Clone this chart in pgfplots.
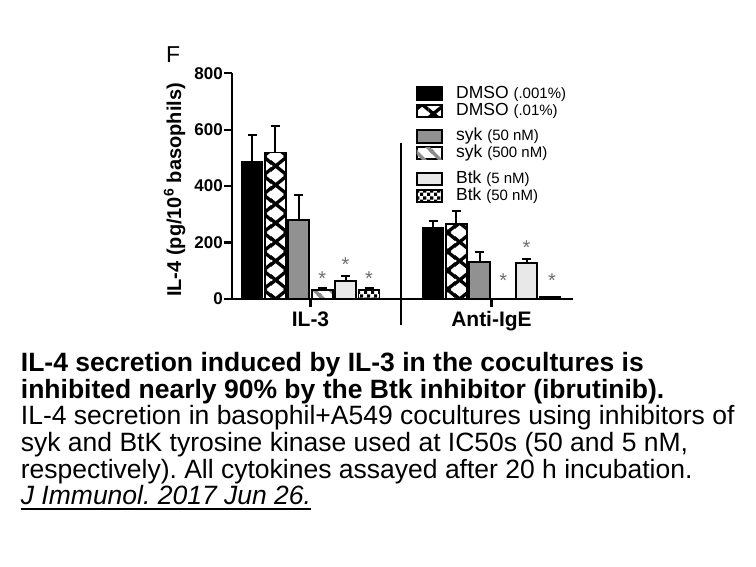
\documentclass[border=0pt]{standalone}
\usepackage{fontspec}
\setmainfont{Liberation Sans}
\usepackage{pgfplots}
\pgfplotsset{compat=1.18}
\usetikzlibrary{patterns}
\frenchspacing

\definecolor{sykgray}{RGB}{145,145,145}
\definecolor{btklight}{RGB}{232,232,232}
\definecolor{stripegray}{RGB}{140,140,140}
\definecolor{stargray}{RGB}{110,110,110}

% big X hatch, one diamond per bar width
\pgfdeclarepatternformonly{bigX}{\pgfqpoint{0pt}{0pt}}{\pgfqpoint{22.56pt}{18.5pt}}{\pgfqpoint{22.56pt}{18.5pt}}{%
  \pgfsetlinewidth{3.4pt}%
  \pgfpathmoveto{\pgfqpoint{-33.56pt}{-3.7pt}}\pgfpathlineto{\pgfqpoint{-2.06pt}{22.2pt}}%
  \pgfpathmoveto{\pgfqpoint{-33.56pt}{22.2pt}}\pgfpathlineto{\pgfqpoint{-2.06pt}{-3.7pt}}%
  \pgfpathmoveto{\pgfqpoint{-11pt}{-3.7pt}}\pgfpathlineto{\pgfqpoint{20.5pt}{22.2pt}}%
  \pgfpathmoveto{\pgfqpoint{-11pt}{22.2pt}}\pgfpathlineto{\pgfqpoint{20.5pt}{-3.7pt}}%
  \pgfpathmoveto{\pgfqpoint{11.56pt}{-3.7pt}}\pgfpathlineto{\pgfqpoint{43.06pt}{22.2pt}}%
  \pgfpathmoveto{\pgfqpoint{11.56pt}{22.2pt}}\pgfpathlineto{\pgfqpoint{43.06pt}{-3.7pt}}%
  \pgfusepath{stroke}}
% wide diagonal stripes
\pgfdeclarepatternformonly{sykstripe}{\pgfqpoint{0pt}{0pt}}{\pgfqpoint{16pt}{16pt}}{\pgfqpoint{16pt}{16pt}}{%
  \pgfsetlinewidth{3.5pt}%
  \pgfpathmoveto{\pgfqpoint{-18pt}{18pt}}\pgfpathlineto{\pgfqpoint{2pt}{-2pt}}%
  \pgfpathmoveto{\pgfqpoint{-2pt}{18pt}}\pgfpathlineto{\pgfqpoint{18pt}{-2pt}}%
  \pgfpathmoveto{\pgfqpoint{14pt}{18pt}}\pgfpathlineto{\pgfqpoint{34pt}{-2pt}}%
  \pgfusepath{stroke}}
% small checkerboard
\pgfdeclarepatternformonly{smallcheck}{\pgfqpoint{0pt}{0pt}}{\pgfqpoint{7pt}{7pt}}{\pgfqpoint{7pt}{7pt}}{%
  \pgfpathrectangle{\pgfqpoint{0pt}{0pt}}{\pgfqpoint{3.5pt}{3.5pt}}%
  \pgfpathrectangle{\pgfqpoint{3.5pt}{3.5pt}}{\pgfqpoint{3.5pt}{3.5pt}}%
  \pgfusepath{fill}}

\pgfplotsset{
  mybar/.style={ybar, bar width=21pt, bar shift=0pt, draw=black, line width=1.8pt,
    error bars/y dir=plus, error bars/y explicit,
    error bars/error bar style={line width=2pt, black},
    error bars/error mark options={rotate=90, mark size=4.5pt, line width=2pt, black}},
}
\tikzset{sigstar/.style={text=stargray, font=\fontsize{20}{20}\selectfont, inner sep=0pt, yshift=-4.4pt}}

\begin{document}
\begin{tikzpicture}[x=1pt,y=1pt]
\path[use as bounding box] (0,0) rectangle (756,567);

\begin{axis}[
  at={(232pt,268pt)}, anchor=south west,
  scale only axis, width=341pt, height=225.7pt,
  xmin=0, xmax=341, ymin=0, ymax=800,
  axis lines=left, axis line style={-, line width=2.7pt},
  clip=false,
  xtick={78.5,259.5}, xticklabels={IL-3,Anti-IgE},
  ytick={0,200,400,600,800},
  tick align=outside, major tick length=8pt,
  tick style={line width=2.4pt, black},
  /pgf/number format/assume math mode=true,
  yticklabel style={font=\bfseries\fontsize{17}{17}\selectfont, inner sep=1pt},
  xticklabel style={font=\bfseries\fontsize{21}{21}\selectfont, anchor=base, yshift=-20pt},
  ylabel={IL-4 (pg/10\textsuperscript{6} basophils)},
  every axis y label/.style={at={(rel axis cs:0,0.483)}, xshift=-57.5pt, rotate=90,
    anchor=center, font=\bfseries\fontsize{20}{20}\selectfont},
]
% DMSO (.001%)
\addplot[mybar, fill=black] coordinates {(20,487) +- (0,93) (201,252) +- (0,23)};
% DMSO (.01%)
\addplot[mybar, fill=white, postaction={pattern=bigX}] coordinates {(43.4,519) +- (0,93) (224.4,267) +- (0,44)};
% syk (50 nM)
\addplot[mybar, fill=sykgray] coordinates {(66.8,279) +- (0,89) (247.8,130) +- (0,37)};
% syk (500 nM)
\addplot[mybar, fill=white, postaction={pattern=sykstripe, pattern color=stripegray}] coordinates {(90.2,32) +- (0,8) (271.2,1) +- (0,0)};
% Btk (5 nM)
\addplot[mybar, fill=btklight] coordinates {(113.6,65) +- (0,17) (294.6,128) +- (0,15)};
% Btk (50 nM)
\addplot[mybar, fill=white, postaction={pattern=smallcheck}] coordinates {(137,32) +- (0,6) (318,6) +- (0,0)};

% significance marks
\node[sigstar] at (axis cs:90.2,87) {*};
\node[sigstar] at (axis cs:113.6,138) {*};
\node[sigstar] at (axis cs:137,87) {*};
\node[sigstar] at (axis cs:271.2,79) {*};
\node[sigstar] at (axis cs:294.6,197) {*};
\node[sigstar] at (axis cs:320,79) {*};

% divider between stimuli
\draw[line width=2pt] (axis cs:168.7,554) -- (axis cs:168.7,-92);
\end{axis}

% legend
\begin{scope}[line width=1.8pt]
\filldraw[fill=black] (416.7,467) rectangle (441.7,479.7);
\draw[fill=white, postaction={pattern=bigX}] (416.7,450.3) rectangle (441.7,462);
\draw[fill=sykgray] (416.7,424.3) rectangle (441.7,437);
\draw[fill=white, postaction={pattern=sykstripe, pattern color=stripegray}] (416.7,407.7) rectangle (441.7,419.7);
\draw[fill=btklight] (416.7,382) rectangle (441.7,394.3);
\draw[fill=white, postaction={pattern=smallcheck}] (416.7,365.3) rectangle (441.7,377);
\end{scope}
\begin{scope}[every node/.style={anchor=west, inner sep=0pt, font=\fontsize{17.5}{17.5}\selectfont}]
\node at (456,473.3) {DMSO {\fontsize{15}{15}\selectfont(.001\%)}};
\node at (456,456.2) {DMSO {\fontsize{15}{15}\selectfont(.01\%)}};
\node at (456,430.7) {syk {\fontsize{15}{15}\selectfont(50 nM)}};
\node at (456,413.7) {syk {\fontsize{15}{15}\selectfont(500 nM)}};
\node at (456,388.2) {Btk {\fontsize{15}{15}\selectfont(5 nM)}};
\node at (456,371.2) {Btk {\fontsize{15}{15}\selectfont(50 nM)}};
\end{scope}

\node[anchor=base west, inner sep=0pt, font=\fontsize{23}{23}\selectfont] at (166,504.3) {F};

% caption
\begin{scope}[every node/.style={anchor=base west, inner sep=0pt}]
\node[font=\bfseries\fontsize{26.5}{26.5}\selectfont] at (20.7,195.3) {IL-4 secretion induced by IL-3 in the cocultures is};
\node[font=\bfseries\fontsize{26.5}{26.5}\selectfont] at (20.7,168.7) {inhibited nearly 90\% by the Btk inhibitor (ibrutinib).};
\node[font=\fontsize{26.5}{26.5}\selectfont] at (20.7,142) {IL-4 secretion in basophil+A549 cocultures using inhibitors of};
\node[font=\fontsize{26.5}{26.5}\selectfont] at (20.7,115.3) {syk and BtK tyrosine kinase used at IC50s (50 and 5 nM,};
\node[font=\fontsize{26.5}{26.5}\selectfont] at (20.7,88.7) {respectively). All cytokines assayed after 20 h incubation.};
\node[font=\itshape\fontsize{26.5}{26.5}\selectfont] (cite) at (20.7,62) {J Immunol. 2017 Jun 26.};
\end{scope}
\draw[line width=1.6pt] ([yshift=-4pt]cite.base west) -- ([yshift=-4pt]cite.base east);
\end{tikzpicture}
\end{document}
